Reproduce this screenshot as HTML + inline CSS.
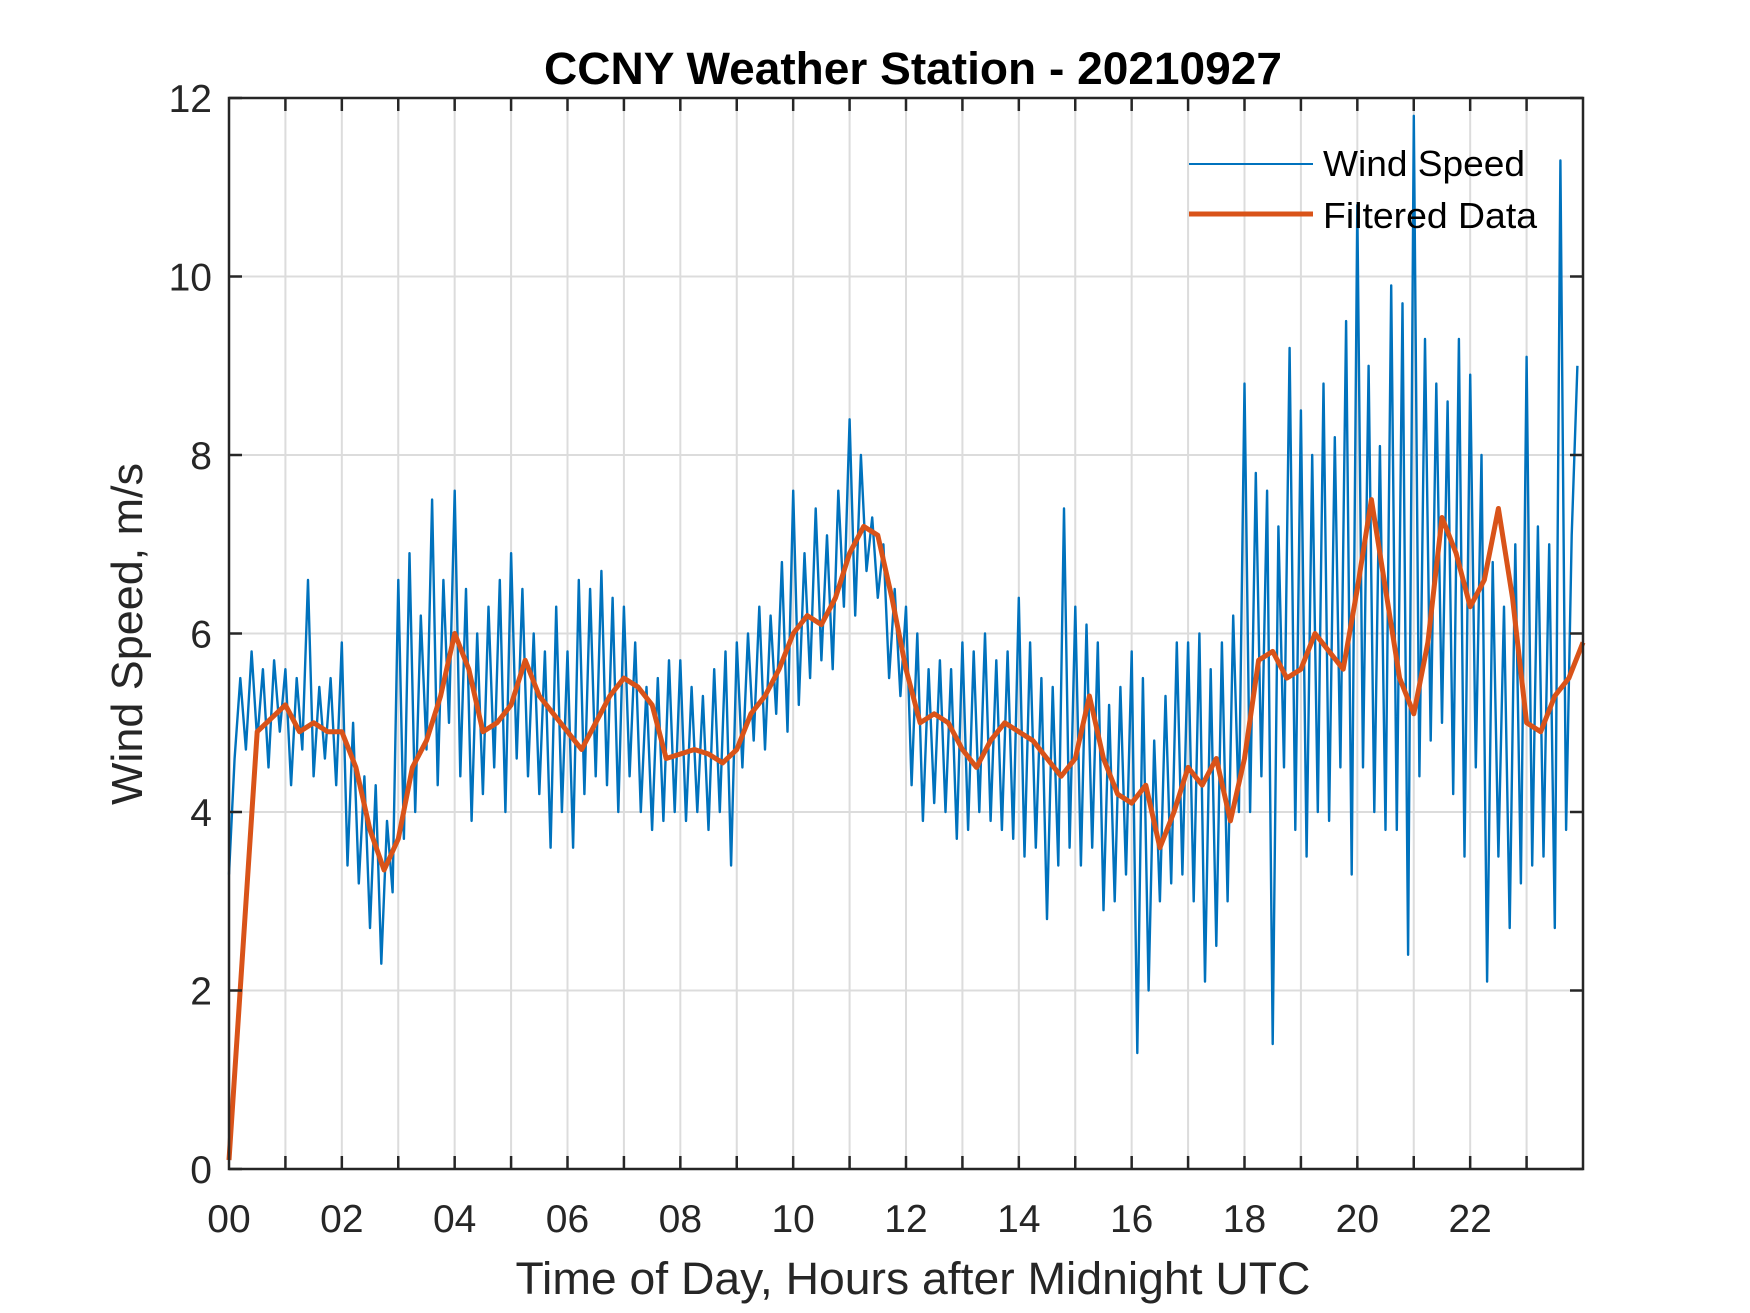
<!DOCTYPE html>
<html><head><meta charset="utf-8"><style>
html,body{margin:0;padding:0;background:#fff;}
svg{display:block;font-family:"Liberation Sans",Arial,sans-serif;}
</style></head><body>
<svg id="chart" width="1750" height="1313" viewBox="0 0 1750 1313">
<rect width="1750" height="1313" fill="#fff"/>
<text x="913" y="84" text-anchor="middle" font-size="45" font-weight="bold" fill="#000" textLength="738" lengthAdjust="spacingAndGlyphs">CCNY Weather Station - 20210927</text>
<g id="grid"></g>
<g id="series"></g>
<g id="axes"></g>
<text x="913" y="1294" text-anchor="middle" font-size="45" fill="#262626" textLength="795" lengthAdjust="spacingAndGlyphs">Time of Day, Hours after Midnight UTC</text>
<text transform="translate(142,634) rotate(-90)" text-anchor="middle" font-size="44" fill="#262626" textLength="342" lengthAdjust="spacingAndGlyphs">Wind Speed, m/s</text>
<g>
<line x1="1189" y1="164" x2="1313" y2="164" stroke="#0072BD" stroke-width="2"/>
<text x="1323" y="176" font-size="36" fill="#000" textLength="202" lengthAdjust="spacingAndGlyphs">Wind Speed</text>
<line x1="1189" y1="214" x2="1313" y2="214" stroke="#D95319" stroke-width="5"/>
<text x="1323" y="228" font-size="36" fill="#000" textLength="214" lengthAdjust="spacingAndGlyphs">Filtered Data</text>
</g>
</svg>
<script>
const rawStep = 0.1;
const rawValues = [
3.3,4.6,5.5,4.7,5.8,4.8,5.6,4.5,5.7,4.9,
5.6,4.3,5.5,4.7,6.6,4.4,5.4,4.6,5.5,4.3,
5.9,3.4,5.0,3.2,4.4,2.7,4.3,2.3,3.9,3.1,
6.6,3.7,6.9,4.0,6.2,4.7,7.5,4.3,6.6,5.0,
7.6,4.4,6.5,3.9,6.0,4.2,6.3,4.5,6.6,4.0,
6.9,4.6,6.5,4.4,6.0,4.2,5.8,3.6,6.3,4.0,
5.8,3.6,6.6,4.2,6.5,4.4,6.7,4.3,6.4,4.0,
6.3,4.4,5.9,4.0,5.4,3.8,5.5,3.9,5.7,4.0,
5.7,3.9,5.4,4.0,5.3,3.8,5.6,4.0,5.8,3.4,
5.9,4.5,6.0,4.8,6.3,4.7,6.2,5.1,6.8,4.9,
7.6,5.2,6.9,5.5,7.4,5.7,7.1,5.6,7.6,6.3,
8.4,6.2,8.0,6.7,7.3,6.4,7.0,5.5,6.5,5.3,
6.3,4.3,6.0,3.9,5.6,4.1,5.7,4.0,5.6,3.7,
5.9,3.8,5.8,4.0,6.0,3.9,5.7,3.8,5.8,3.7,
6.4,3.5,5.9,3.6,5.5,2.8,5.4,3.4,7.4,3.6,
6.3,3.4,6.1,3.6,5.9,2.9,5.2,3.0,5.4,3.3,
5.8,1.3,5.5,2.0,4.8,3.0,5.3,3.2,5.9,3.3,
5.9,3.0,6.0,2.1,5.6,2.5,5.9,3.0,6.2,4.0,
8.8,4.0,7.8,4.4,7.6,1.4,7.2,4.5,9.2,3.8,
8.5,3.5,8.0,4.0,8.8,3.9,8.2,4.5,9.5,3.3,
10.8,4.5,9.0,4.0,8.1,3.8,9.9,3.8,9.7,2.4,
11.8,4.4,9.3,4.8,8.8,5.0,8.6,4.2,9.3,3.5,
8.9,4.5,8.0,2.1,6.8,3.5,6.3,2.7,7.0,3.2,
9.1,3.4,7.2,3.5,7.0,2.7,11.3,3.8,7.1,9.0
];
const filtStep = 0.25;
const filtValues = [
0.1,2.5,4.9,5.05,5.2,4.9,5.0,4.9,4.9,4.5,3.8,3.35,3.7,4.5,4.8,5.3,
6.0,5.6,4.9,5.0,5.2,5.7,5.3,5.1,4.9,4.7,5.0,5.3,5.5,5.4,5.2,4.6,
4.65,4.7,4.65,4.55,4.7,5.1,5.3,5.6,6.0,6.2,6.1,6.4,6.9,7.2,7.1,6.4,
5.6,5.0,5.1,5.0,4.7,4.5,4.8,5.0,4.9,4.8,4.6,4.4,4.6,5.3,4.6,4.2,
4.1,4.3,3.6,4.0,4.5,4.3,4.6,3.9,4.6,5.7,5.8,5.5,5.6,6.0,5.8,5.6,
6.5,7.5,6.5,5.5,5.1,5.9,7.3,6.9,6.3,6.6,7.4,6.4,5.0,4.9,5.3,5.5,5.9
];
const yTicks = [0,2,4,6,8,10,12];
const xTickLabels = ["00","02","04","06","08","10","12","14","16","18","20","22"];

const L=229,R=1583,T=98,B=1169, X0=0,X1=24,Y0=0,Y1=12;
const NS='http://www.w3.org/2000/svg';
function xs(h){return L+(h-X0)/(X1-X0)*(R-L);}
function ys(v){return B-(v-Y0)/(Y1-Y0)*(B-T);}
function mk(tag,attrs,parent){const e=document.createElementNS(NS,tag);for(const k in attrs)e.setAttribute(k,attrs[k]);parent.appendChild(e);return e;}
const grid=document.getElementById('grid'),series=document.getElementById('series'),axes=document.getElementById('axes');
for(let h=1;h<24;h++){
  const g=mk('line',{x1:xs(h),x2:xs(h),y1:T,y2:B,stroke:'#dcdcdc','stroke-width':2},grid);
  
  
}
yTicks.forEach(v=>{
  if(v>Y0&&v<Y1){
    const g=mk('line',{x1:L,x2:R,y1:ys(v),y2:ys(v),stroke:'#dcdcdc','stroke-width':2},grid);
    
    
  }
});
let d='';
rawValues.forEach((v,i)=>{d+=(i?'L':'M')+xs(i*rawStep).toFixed(1)+' '+ys(v).toFixed(1);});
const raw=mk('path',{d:d,fill:'none',stroke:'#0072BD','stroke-width':2.4,'stroke-linejoin':'round'},series);


d='';
filtValues.forEach((v,i)=>{d+=(i?'L':'M')+xs(i*filtStep).toFixed(1)+' '+ys(v).toFixed(1);});
const filt=mk('path',{d:d,fill:'none',stroke:'#D95319','stroke-width':5,'stroke-linejoin':'round'},series);


for(let h=1;h<24;h++){
  const t1=mk('line',{x1:xs(h),x2:xs(h),y1:B,y2:B-13,stroke:'#262626','stroke-width':2.5},axes);
  
  
  const t2=mk('line',{x1:xs(h),x2:xs(h),y1:T,y2:T+13,stroke:'#262626','stroke-width':2.5},axes);
  
  
}
xTickLabels.forEach((lab,i)=>{
  const t=mk('text',{x:xs(i*2),y:1232,'text-anchor':'middle','font-size':39,fill:'#262626'},axes);
  t.textContent=lab;
  
  
});
yTicks.forEach(v=>{
  const a=mk('line',{x1:L,x2:L+13,y1:ys(v),y2:ys(v),stroke:'#262626','stroke-width':2.5},axes);
  
  
  const b=mk('line',{x1:R,x2:R-13,y1:ys(v),y2:ys(v),stroke:'#262626','stroke-width':2.5},axes);
  
  
  const t=mk('text',{x:212,y:ys(v)+14,'text-anchor':'end','font-size':39,fill:'#262626'},axes);
  t.textContent=String(v);
  
  
});
const box=mk('rect',{x:L,y:T,width:R-L,height:B-T,fill:'none',stroke:'#262626','stroke-width':2.5},axes);


</script>
</body></html>
